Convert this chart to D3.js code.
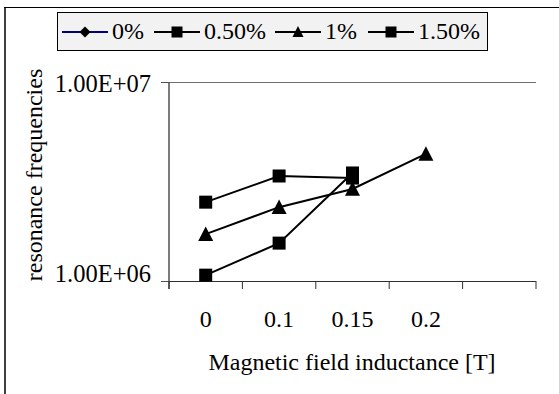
<!DOCTYPE html>
<html>
<head>
<meta charset="utf-8">
<script src="https://cdn.jsdelivr.net/npm/d3@7"></script>
<style>
  body { margin: 0; background: #fff; }
  text { font-family: "Liberation Serif", "DejaVu Serif", serif; fill: #000; }
</style>
</head>
<body>
<div id="chart"></div>
<script>
// data
const categories = ["0", "0.1", "0.15", "0.2", ""];
const seriesNames = ["0%", "0.50%", "1%", "1.50%"];
const values0 = [null, null, null, null];
const values05 = [2.49e6, 3.37e6, 3.29e6];
const values1 = [1.72e6, 2.35e6, 2.90e6, 4.35e6];
const values15 = [1.07e6, 1.55e6, 3.49e6];
const yTicks = [1e6, 1e7];
const yTickLabels = ["1.00E+06", "1.00E+07"];

const width = 559, height = 394;
const plotLeft = 169, plotRight = 536, plotTop = 82, plotBottom = 281;

const series = [
  { name: seriesNames[0], values: values0, color: "#000080", marker: "diamond" },
  { name: seriesNames[1], values: values05, color: "#000", marker: "square" },
  { name: seriesNames[2], values: values1, color: "#000", marker: "triangle" },
  { name: seriesNames[3], values: values15, color: "#000", marker: "square" }
];

const svg = d3.select("#chart").append("svg").attr("width", width).attr("height", height);

// outer frame (clipped at right / bottom like the source)
svg.append("line").attr("x1", 5).attr("x2", 5).attr("y1", 7).attr("y2", height)
  .attr("stroke", "#404040").attr("stroke-width", 2);
svg.append("line").attr("x1", 4).attr("x2", width).attr("y1", 7.5).attr("y2", 7.5)
  .attr("stroke", "#000").attr("stroke-width", 1);

const x = d3.scaleBand().domain(d3.range(categories.length)).range([plotLeft, plotRight]);
const y = d3.scaleLog().domain([1e6, 1e7]).range([plotBottom, plotTop]);

// gridline at top
svg.append("line").attr("x1", plotLeft).attr("x2", plotRight).attr("y1", y(1e7) + 0.5).attr("y2", y(1e7) + 0.5)
  .attr("stroke", "#707070");

// y axis
const yAxis = svg.append("g").attr("transform", `translate(${plotLeft},0)`)
  .call(d3.axisLeft(y).tickValues(yTicks).tickSize(8).tickFormat((d, i) => yTickLabels[i]));
yAxis.select(".domain").attr("stroke", "#505050").attr("stroke-width", 1.5).attr("d", `M0,${plotTop}V${plotBottom + 8}`);
yAxis.selectAll(".tick line").attr("stroke", "#505050");
yAxis.selectAll(".tick text").attr("font-size", 24.5).attr("font-family", "Liberation Serif")
  .attr("x", -18).attr("dy", (d, i) => i === 0 ? "0.02em" : "0.38em");

// x axis, ticks between categories
const xg = svg.append("g").attr("transform", `translate(0,${plotBottom})`);
xg.append("line").attr("x1", plotLeft).attr("x2", plotRight).attr("y1", 0.5).attr("y2", 0.5).attr("stroke", "#303030");
xg.selectAll("line.tk").data(d3.range(categories.length + 1)).enter().append("line")
  .attr("class", "tk")
  .attr("x1", i => i < categories.length ? x(i) : plotRight)
  .attr("x2", i => i < categories.length ? x(i) : plotRight)
  .attr("y1", 0).attr("y2", 8).attr("stroke", "#303030");
xg.selectAll("text").data(categories).enter().append("text")
  .attr("x", (d, i) => x(i) + x.bandwidth() / 2).attr("y", 46)
  .attr("text-anchor", "middle").attr("font-size", 24).text(d => d);

// axis titles
svg.append("text").attr("x", 352).attr("y", 370).attr("text-anchor", "middle")
  .attr("font-size", 24).text("Magnetic field inductance [T]");
svg.append("text").attr("transform", "translate(42,175) rotate(-90)").attr("text-anchor", "middle")
  .attr("font-size", 24).text("resonance frequencies");

function drawMarker(g, type, cx, cy, s) {
  if (type === "square") {
    g.append("rect").attr("x", cx - s / 2).attr("y", cy - s / 2).attr("width", s).attr("height", s).attr("fill", "#000");
  } else if (type === "triangle") {
    const h = s * 0.9;
    g.append("path").attr("d", `M${cx},${cy - h / 2 - 1}L${cx + s / 2},${cy + h / 2}L${cx - s / 2},${cy + h / 2}Z`).attr("fill", "#000");
  } else {
    const r = s / 2;
    g.append("path").attr("d", `M${cx},${cy - r}L${cx + r},${cy}L${cx},${cy + r}L${cx - r},${cy}Z`).attr("fill", "#000");
  }
}

const cx = i => x(i) + x.bandwidth() / 2;
const line = d3.line().defined(d => d != null).x((d, i) => cx(i)).y(d => y(d));

series.forEach(s => {
  const g = svg.append("g");
  g.append("path").datum(s.values).attr("d", line).attr("fill", "none")
    .attr("stroke", s.color).attr("stroke-width", 2);
  s.values.forEach((v, i) => {
    if (v != null) drawMarker(g, s.marker, cx(i), y(v), s.marker === "triangle" ? 15 : 13);
  });
});

// legend
const legend = svg.append("g");
legend.append("rect").attr("x", 57.5).attr("y", 12.5).attr("width", 430).attr("height", 38)
  .attr("fill", "#f2f2f2").attr("stroke", "#000");
const legendX = [62, 154, 275, 368];
series.forEach((s, i) => {
  const lx = legendX[i];
  legend.append("line").attr("x1", lx).attr("x2", lx + 46).attr("y1", 32).attr("y2", 32)
    .attr("stroke", s.color).attr("stroke-width", 2);
  drawMarker(legend, s.marker, lx + 23, 32, 11);
  legend.append("text").attr("x", lx + 50).attr("y", 39).attr("font-size", 24).text(s.name);
});
</script>
</body>
</html>
